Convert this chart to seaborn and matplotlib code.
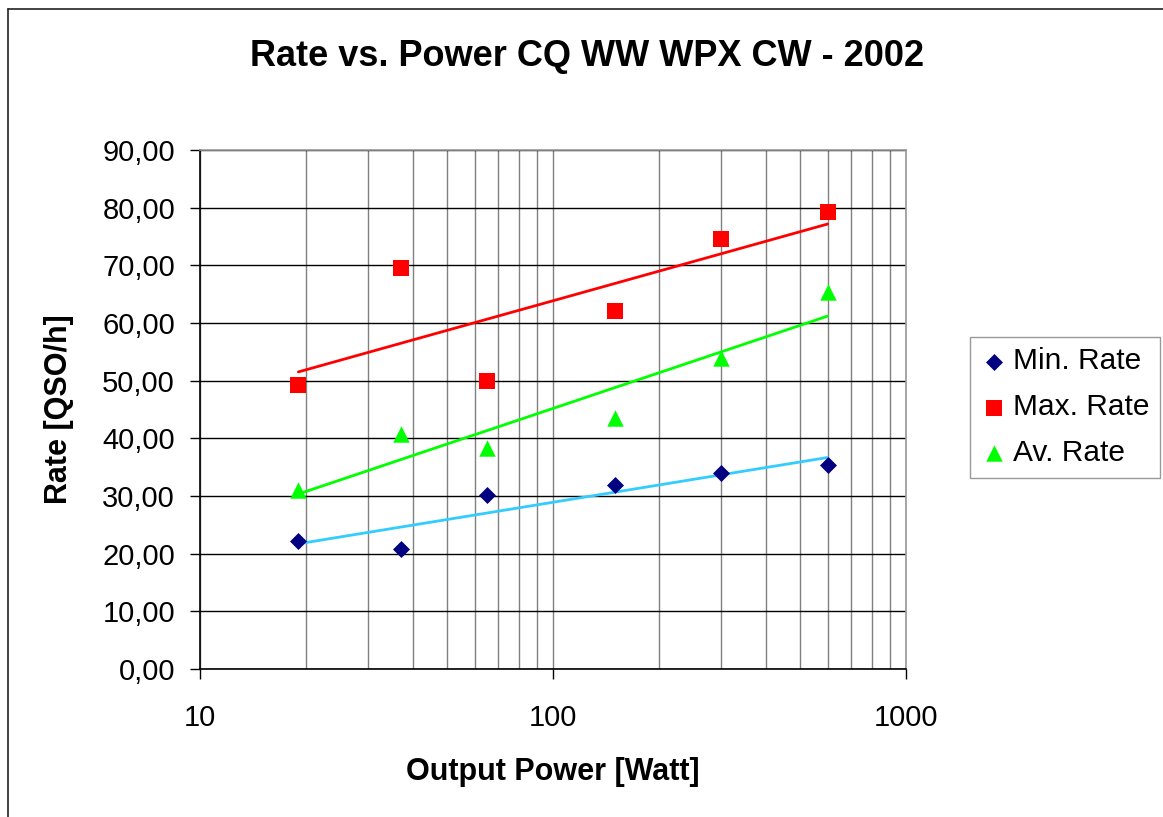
import numpy as np
import pandas as pd
import matplotlib
matplotlib.use('Agg')
import matplotlib.pyplot as plt
from matplotlib.ticker import FuncFormatter, FixedLocator, LogLocator, NullFormatter
from matplotlib.lines import Line2D
import seaborn as sns

# data
power = [19, 37, 65, 150, 300, 600]
min_rate = [22.2, 20.8, 30.2, 31.9, 34.0, 35.3]
max_rate = [49.2, 69.6, 50.0, 62.1, 74.5, 79.3]
av_rate = [31.0, 40.7, 38.4, 43.6, 53.9, 65.4]

series_names = ['Min. Rate', 'Max. Rate', 'Av. Rate']
marker_colors = {'Min. Rate': '#000080', 'Max. Rate': '#FF0000', 'Av. Rate': '#00FF00'}
trend_colors = {'Min. Rate': '#33CCFF', 'Max. Rate': '#FF0000', 'Av. Rate': '#00FF00'}
markers = {'Min. Rate': 'D', 'Max. Rate': 's', 'Av. Rate': '^'}
sizes = {'Min. Rate': 75, 'Max. Rate': 120, 'Av. Rate': 140}

df = pd.DataFrame({
    'power': power * 3,
    'rate': min_rate + max_rate + av_rate,
    'series': [n for n in series_names for _ in power],
})

sns.set_style('white')
plt.rcParams['font.family'] = ['Liberation Sans', 'DejaVu Sans']
plt.rcParams['text.color'] = 'black'
plt.rcParams['axes.labelcolor'] = 'black'
plt.rcParams['xtick.color'] = 'black'
plt.rcParams['ytick.color'] = 'black'

fig = plt.figure(figsize=(11.63, 8.17), dpi=100)
ax = fig.add_axes([200 / 1163, 1 - 669 / 817, 706 / 1163, 519 / 817])

# logarithmic trendlines (like Excel's)
xs = np.geomspace(min(power), max(power), 200)
for name, vals in zip(series_names, [min_rate, max_rate, av_rate]):
    k, b = np.polyfit(np.log(power), vals, 1)
    ax.plot(xs, k * np.log(xs) + b, color=trend_colors[name], lw=2, zorder=3)

for name in series_names:
    sub = df[df['series'] == name]
    sns.scatterplot(data=sub, x='power', y='rate', ax=ax, color=marker_colors[name],
                    marker=markers[name], s=sizes[name], linewidth=0, label=name,
                    zorder=4)

ax.set_xscale('log')
ax.set_xlim(10, 1000)
ax.set_ylim(0, 90)
ax.yaxis.set_major_locator(FixedLocator(np.arange(0, 91, 10)))
ax.yaxis.set_major_formatter(FuncFormatter(lambda v, p: f'{v:.2f}'.replace('.', ',')))
ax.xaxis.set_major_locator(FixedLocator([10, 100, 1000]))
ax.xaxis.set_major_formatter(FuncFormatter(lambda v, p: f'{v:g}'))
ax.xaxis.set_minor_locator(LogLocator(base=10, subs=np.arange(2, 10)))
ax.xaxis.set_minor_formatter(NullFormatter())

ax.grid(axis='y', which='major', color='black', lw=1, zorder=1)
ax.grid(axis='x', which='both', color='#808080', lw=1, zorder=1)
ax.set_axisbelow(True)

for s in ['top', 'right']:
    ax.spines[s].set_color('#999999')
for s in ['left', 'bottom']:
    ax.spines[s].set_color('black')
for s in ax.spines.values():
    s.set_linewidth(1.2)

ax.tick_params(axis='y', which='major', direction='out', length=7, width=1,
               left=True, labelsize=21, pad=11, color='black')
ax.tick_params(axis='x', which='major', direction='out', length=7, width=1,
               bottom=True, labelsize=21, pad=18, color='black')
ax.tick_params(axis='x', which='minor', length=0)

ax.set_xlabel('Output Power [Watt]', fontsize=22, fontweight='bold')
ax.set_ylabel('Rate [QSO/h]', fontsize=22, fontweight='bold')
ax.xaxis.set_label_coords(0.5, -0.1985)
ax.xaxis.label.set_va('center')
ax.yaxis.set_label_coords(-0.1997, 0.5)
ax.yaxis.label.set_va('center')
ax.yaxis.label.set_ha('center')

fig.text(0.505, 1 - 57 / 817, 'Rate vs. Power CQ WW WPX CW - 2002', ha='center',
         va='center', fontsize=26, fontweight='bold')

leg = ax.legend(loc='upper left', bbox_to_anchor=(970 / 1163, 1 - 337 / 817),
                bbox_transform=fig.transFigure, fontsize=21.5, frameon=True,
                fancybox=False, edgecolor='#808080', borderaxespad=0,
                borderpad=0.35, labelspacing=0.6, handlelength=0.9,
                handletextpad=0.2, markerscale=1.0)
leg.get_frame().set_linewidth(1)

# outer chart border (left and top edges visible)
fig.add_artist(Line2D([7.5 / 1163, 7.5 / 1163], [0, 1 - 8.5 / 817], color='#222222', lw=1.2))
fig.add_artist(Line2D([7.5 / 1163, 1], [1 - 8.5 / 817, 1 - 8.5 / 817], color='#222222', lw=1.2))

fig.savefig('out.png', dpi=100, facecolor='white')
